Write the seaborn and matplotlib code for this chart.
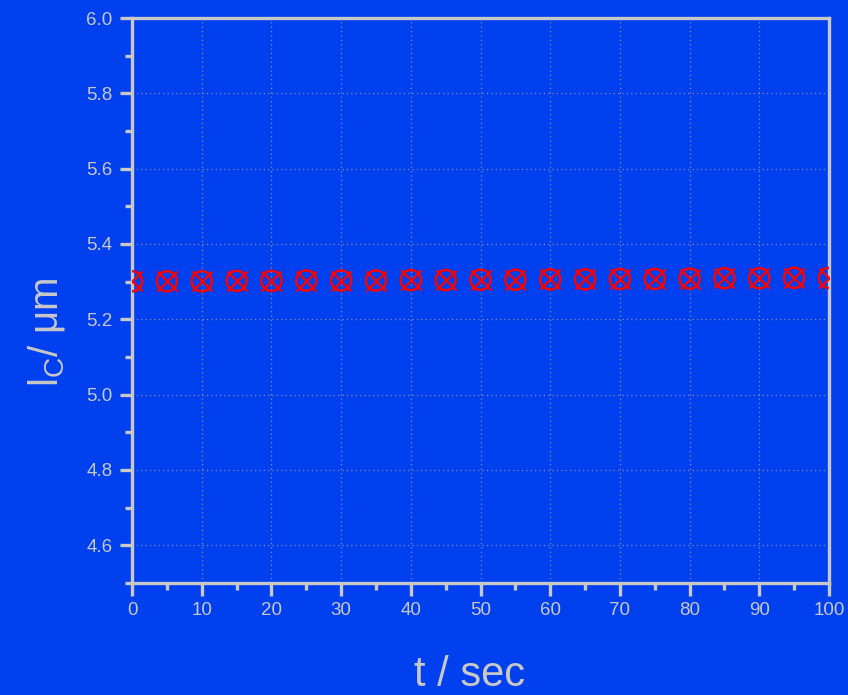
import numpy as np
import pandas as pd
import matplotlib
matplotlib.use("Agg")
import matplotlib.pyplot as plt
import seaborn as sns

# Measured coherence length over time
t_sec = [0, 5, 10, 15, 20, 25, 30, 35, 40, 45, 50, 55, 60, 65, 70, 75, 80, 85, 90, 95, 100]
lc_um = [5.301, 5.301, 5.301, 5.302, 5.302, 5.303, 5.303, 5.303, 5.304, 5.304, 5.305,
         5.305, 5.306, 5.306, 5.307, 5.307, 5.308, 5.309, 5.309, 5.310, 5.310]

df = pd.DataFrame({"t": t_sec, "lc": lc_um})

bg = "#0040EE"
fg = "#C8C8C8"

sns.set_theme(style="ticks")
plt.rcParams["font.family"] = ["Liberation Sans", "DejaVu Sans"]
plt.rcParams["mathtext.fontset"] = "custom"
plt.rcParams["mathtext.rm"] = "Liberation Sans"
plt.rcParams["mathtext.it"] = "Liberation Sans"

fig = plt.figure(figsize=(8.48, 6.95), dpi=100, facecolor=bg)
ax = fig.add_axes([0.1557, 0.1612, 0.8219, 0.8129])
ax.set_facecolor(bg)

ms = 210
sns.scatterplot(data=df, x="t", y="lc", marker="o", s=ms, facecolors="none",
                edgecolor="#FF0000", linewidth=1.8, ax=ax, zorder=3)
sns.scatterplot(data=df, x="t", y="lc", marker="x", s=ms, color="#FF0000",
                linewidth=1.6, ax=ax, zorder=3)

ax.set_xlim(0, 100)
ax.set_ylim(4.5, 6.0)
ax.set_xticks(np.arange(0, 101, 10))
ax.set_xticks(np.arange(0, 101, 5), minor=True)
ax.set_yticks(np.round(np.arange(4.6, 6.01, 0.2), 1))
ax.set_yticks(np.round(np.arange(4.5, 6.01, 0.1), 1), minor=True)
ax.yaxis.set_major_formatter(matplotlib.ticker.FormatStrFormatter("%.1f"))

ax.grid(True, which="major", color="#8C8CB0", linestyle=(0, (1, 2.5)), linewidth=0.9)

for s in ax.spines.values():
    s.set_color(fg)
    s.set_linewidth(2.4)

ax.tick_params(axis="both", which="major", direction="out", length=9, width=2.4,
               color=fg, labelcolor=fg, labelsize=13.5, pad=5)
ax.tick_params(axis="both", which="minor", direction="out", length=5, width=2.4, color=fg)

ax.set_xlabel("t / sec", fontsize=30, color=fg)
ax.set_ylabel(r"l$_\mathregular{C}$/ μm", fontsize=29, color=fg)
ax.xaxis.label.set_va("baseline")
ax.xaxis.set_label_coords(0.4842, -0.1823)
ax.yaxis.set_label_coords(-0.0933, 0.4434)

fig.savefig("out.png", dpi=100, facecolor=bg)
